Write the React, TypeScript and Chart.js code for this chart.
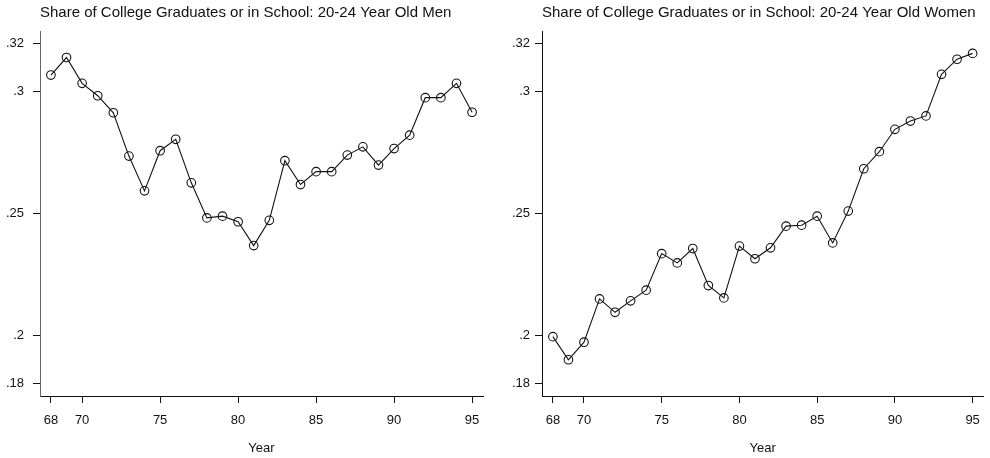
import React, { useEffect, useRef } from "react";
import { Chart, registerables } from "chart.js";

Chart.register(...registerables);

const years = [68, 69, 70, 71, 72, 73, 74, 75, 76, 77, 78, 79, 80, 81, 82, 83, 84, 85, 86, 87, 88, 89, 90, 91, 92, 93, 94, 95];
const menShare = [0.3069, 0.3141, 0.3035, 0.2984, 0.2914, 0.2736, 0.2593, 0.2758, 0.2805, 0.2626, 0.2482, 0.2489, 0.2466, 0.2368, 0.2472, 0.2717, 0.2619, 0.2672, 0.2672, 0.274, 0.2774, 0.2699, 0.2767, 0.2822, 0.2976, 0.2976, 0.3035, 0.2916];
const womenShare = [0.1994, 0.1899, 0.1971, 0.2149, 0.2094, 0.2141, 0.2185, 0.2335, 0.2297, 0.2356, 0.2204, 0.2153, 0.2366, 0.2314, 0.2359, 0.2448, 0.2452, 0.2489, 0.2379, 0.251, 0.2684, 0.2754, 0.2846, 0.288, 0.2901, 0.3072, 0.3134, 0.3158];
const yTicks = [0.18, 0.2, 0.25, 0.3, 0.32];
const xTicks = [68, 70, 75, 80, 85, 90, 95];
const menTitle = "Share of College Graduates or in School: 20-24 Year Old Men";
const womenTitle = "Share of College Graduates or in School: 20-24 Year Old Women";
const xAxisTitle = "Year";

const FONT = "'Liberation Sans', Arial, Helvetica, sans-serif";
const INK = "#111111";

function fmtY(v: number): string {
  return String(Number(v.toFixed(2))).replace(/^0/, "");
}

function makeConfig(values: number[], title: string, yWidth: number, yPad: number, rightPad: number, yBorder: string): any {
  return {
    type: "line",
    data: {
      datasets: [
        {
          data: years.map((yr, i) => ({ x: yr, y: values[i] })),
          borderColor: INK,
          borderWidth: 1.1,
          pointRadius: 4.3,
          pointBorderWidth: 1.1,
          pointBackgroundColor: "rgba(0,0,0,0)",
          pointBorderColor: INK,
          tension: 0,
          fill: false,
        },
      ],
    },
    options: {
      responsive: false,
      animation: false,
      devicePixelRatio: 1,
      layout: { padding: { top: 0, left: 0, right: rightPad, bottom: 0 } },
      plugins: {
        legend: { display: false },
        tooltip: { enabled: false },
        title: {
          display: true,
          text: title,
          align: "start",
          fullSize: false,
          color: INK,
          font: { family: FONT, size: 15, weight: "normal" },
          padding: { top: 4, bottom: 9 },
        },
      },
      scales: {
        x: {
          type: "linear",
          min: 67.3,
          max: 95.7,
          afterBuildTicks: (scale: any) => {
            scale.ticks = xTicks.map((v) => ({ value: v }));
          },
          afterFit: (scale: any) => {
            scale.height = 62;
          },
          grid: {
            display: true,
            drawOnChartArea: false,
            drawTicks: true,
            tickLength: 7,
            color: INK,
            lineWidth: 1,
          },
          border: { display: true, color: INK, width: 1 },
          ticks: {
            color: INK,
            padding: 10,
            maxRotation: 0,
            autoSkip: false,
            font: { family: FONT, size: 13 },
            callback: (v: any) => String(v),
          },
          title: {
            display: true,
            text: xAxisTitle,
            color: INK,
            font: { family: FONT, size: 13 },
            padding: { top: 0, bottom: 2 },
          },
        },
        y: {
          type: "linear",
          min: 0.175,
          max: 0.325,
          afterBuildTicks: (scale: any) => {
            scale.ticks = yTicks.map((v) => ({ value: v }));
          },
          afterFit: (scale: any) => {
            scale.width = yWidth;
          },
          grid: {
            display: true,
            drawOnChartArea: false,
            drawTicks: true,
            tickLength: 7,
            color: INK,
            lineWidth: 1,
          },
          border: { display: true, color: yBorder, width: 1 },
          ticks: {
            color: INK,
            padding: yPad,
            autoSkip: false,
            font: { family: FONT, size: 13 },
            callback: (v: any) => fmtY(Number(v)),
          },
        },
      },
    },
  };
}

function Panel(props: { values: number[]; title: string; left: number; yWidth: number; yPad: number; rightPad: number; yBorder: string }) {
  const ref = useRef<HTMLCanvasElement | null>(null);
  useEffect(() => {
    if (!ref.current) return;
    const chart = new Chart(ref.current, makeConfig(props.values, props.title, props.yWidth, props.yPad, props.rightPad, props.yBorder));
    return () => chart.destroy();
  }, []);
  return (
    <div style={{ position: "absolute", left: props.left, top: 0, width: 495, height: 458 }}>
      <canvas ref={ref} width={495} height={458} style={{ display: "block", width: 495, height: 458 }} />
    </div>
  );
}

export default function App() {
  return (
    <div style={{ position: "fixed", left: 0, top: 0, width: 990, height: 458, background: "#fff", overflow: "hidden" }}>
      <Panel values={menShare} title={menTitle} left={0} yWidth={40} yPad={9} rightPad={12} yBorder="#666" />
      <Panel values={womenShare} title={womenTitle} left={495} yWidth={47} yPad={5} rightPad={4} yBorder={INK} />
    </div>
  );
}
